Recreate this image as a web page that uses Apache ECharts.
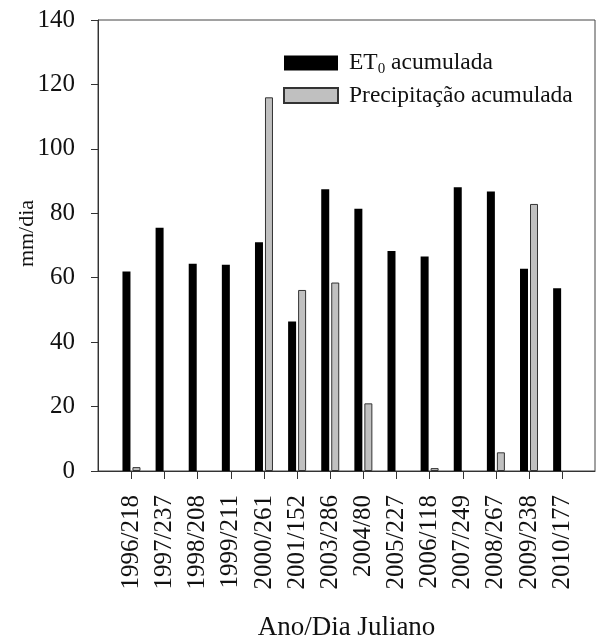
<!DOCTYPE html>
<html>
<head>
<meta charset="utf-8">
<script src="https://cdn.jsdelivr.net/npm/echarts@6/dist/echarts.min.js"></script>
<style>html,body{margin:0;padding:0;background:#fff;}#chart{width:596px;height:642px;}</style>
</head>
<body>
<div id="chart"></div>
<script>
const categories = ['1996/218','1997/237','1998/208','1999/211','2000/261','2001/152','2003/286','2004/80','2005/227','2006/118','2007/249','2008/267','2009/238','2010/177'];
const et0Values = [61.9, 75.5, 64.3, 64.0, 71.0, 46.4, 87.5, 81.4, 68.3, 66.6, 88.1, 86.8, 62.8, 56.7];
const precipValues = [1.2, null, null, null, 116.0, 56.2, 58.5, 21.0, null, 0.9, null, 5.8, 82.9, null];
const yTicks = [0, 20, 40, 60, 80, 100, 120, 140];
const seriesNames = ['ET0 acumulada', 'Precipitação acumulada'];
const axisNames = { x: 'Ano/Dia Juliano', y: 'mm/dia' };

const FONT = 'Liberation Serif';
const chart = echarts.init(document.getElementById('chart'), null, { renderer: 'canvas' });
const option = {
  backgroundColor: '#fff',
  animation: false,
  textStyle: { fontFamily: FONT, color: '#111' },
  grid: [
    { left: 98, top: 20, right: 1, bottom: 171, show: true, borderColor: '#444', borderWidth: 1, backgroundColor: 'transparent', outerBoundsMode: 'none', containLabel: false },
    { left: 114.9, top: 20, right: 17.3, bottom: 171, outerBoundsMode: 'none', containLabel: false }
  ],
  legend: {
    orient: 'vertical', left: 278, top: 46, itemWidth: 54, itemHeight: 15, itemGap: 7, icon: 'rect',
    data: seriesNames,
    formatter: function (n) { return n === seriesNames[0] ? '{n|ET}{s|0}{n| acumulada}' : '{n|' + n + '}'; },
    textStyle: {
      fontFamily: FONT, color: '#111', padding: [0, 0, 0, 6],
      rich: {
        n: { fontFamily: FONT, fontSize: 23.5, color: '#111' },
        s: { fontFamily: FONT, fontSize: 15, color: '#111', padding: [12, 0, 0, 0] }
      }
    }
  },
  xAxis: [
    { gridIndex: 0, type: 'value', min: 0, max: 1, axisLine: { show: true, lineStyle: { color: '#333', width: 1 } }, axisTick: { show: false }, axisLabel: { show: false }, splitLine: { show: false },
      name: axisNames.x, nameLocation: 'middle', nameGap: 143, nameMoveOverlap: false, nameTextStyle: { fontFamily: FONT, fontSize: 27, color: '#111' } },
    { gridIndex: 1, type: 'category', data: categories, boundaryGap: true,
      axisLine: { show: false }, axisTick: { show: true, alignWithLabel: true, length: 8, lineStyle: { color: '#333' } },
      axisLabel: { rotate: 90, margin: 24, fontFamily: FONT, fontSize: 25, color: '#111', interval: 0 } }
  ],
  yAxis: [
    { gridIndex: 0, type: 'value', min: 0, max: 140, interval: 20,
      axisLine: { show: true, lineStyle: { color: '#333', width: 1 } }, axisTick: { show: true, length: 7, lineStyle: { color: '#333' } },
      axisLabel: { margin: 23, fontFamily: FONT, fontSize: 25, color: '#111' }, splitLine: { show: false },
      name: axisNames.y, nameLocation: 'middle', nameGap: 60, nameMoveOverlap: false,
      nameTextStyle: { fontFamily: FONT, fontSize: 22, color: '#111', padding: [0, 0, 0, 24] } },
    { gridIndex: 1, type: 'value', min: 0, max: 140, show: false }
  ],
  series: [
    { name: seriesNames[0], type: 'bar', xAxisIndex: 1, yAxisIndex: 1, data: et0Values, barWidth: 8, barGap: '25%',
      itemStyle: { color: '#000', borderColor: '#000', borderWidth: 0 } },
    { name: seriesNames[1], type: 'bar', xAxisIndex: 1, yAxisIndex: 1, data: precipValues, barWidth: 8,
      itemStyle: { color: '#c0c0c0', borderColor: '#333', borderWidth: 1 } }
  ]
};
chart.setOption(option);
</script>
</body>
</html>
